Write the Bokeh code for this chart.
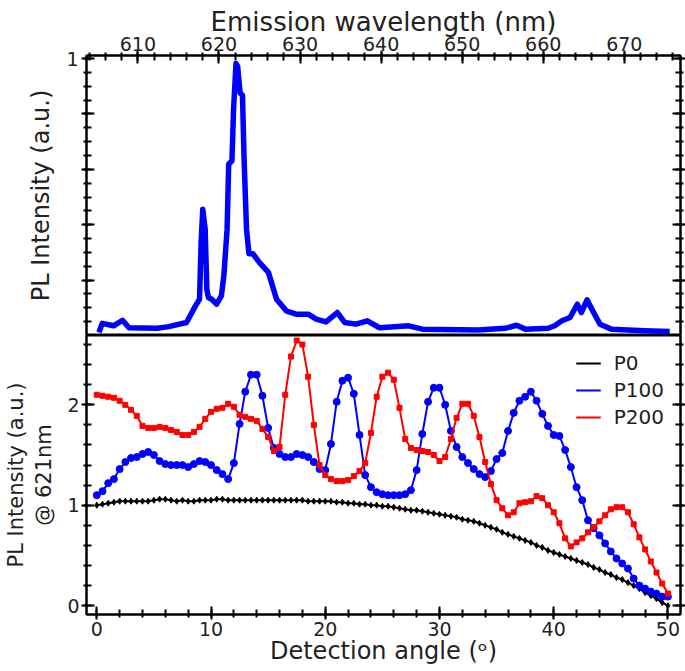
from bokeh.plotting import figure
from bokeh.models import (Range1d, LinearAxis, SingleIntervalTicker, FixedTicker,
                          Legend, LegendItem, CustomJSTickFormatter)
from bokeh.layouts import column
from bokeh.embed import file_html
from bokeh.resources import INLINE

FONT = "DejaVu Sans"

# ---------------- data: top panel (PL spectrum) ----------------
wavelength = [605.2, 605.6, 607.0, 608.1, 608.9, 612.4, 613.8, 616.0, 617.1, 617.6,
              617.8, 618.0, 618.3, 618.5, 618.7, 619.1, 619.7, 620.3, 620.6, 621.0,
              621.2, 621.6, 621.8, 622.1, 622.3, 622.6, 622.9, 623.1, 623.4, 623.7,
              624.2, 625.0, 626.1, 627.1, 628.3, 629.5, 631.0, 632.0, 633.2, 634.6,
              635.5, 636.9, 638.3, 639.8, 643.4, 645.1, 652.0, 655.3, 656.7, 657.8,
              660.6, 661.4, 662.3, 663.3, 664.2, 664.7, 665.4, 666.1, 667.0, 668.4,
              672.5, 675.6]
intensity = [0.011, 0.044, 0.035, 0.055, 0.028, 0.026, 0.032, 0.047, 0.107, 0.131,
             0.336, 0.456, 0.383, 0.167, 0.137, 0.131, 0.113, 0.143, 0.215, 0.383,
             0.619, 0.630, 0.817, 0.982, 0.972, 0.877, 0.867, 0.636, 0.383, 0.295,
             0.295, 0.263, 0.228, 0.131, 0.089, 0.077, 0.077, 0.059, 0.049, 0.083,
             0.047, 0.041, 0.053, 0.028, 0.035, 0.023, 0.020, 0.026, 0.037, 0.023,
             0.026, 0.035, 0.053, 0.065, 0.113, 0.083, 0.129, 0.089, 0.041, 0.023,
             0.017, 0.014]

# ---------------- data: bottom panel (angle scans at 621 nm) ----------------
angle = [k / 2 for k in range(101)]
p0 = [1.00, 1.01, 1.02, 1.03, 1.04, 1.04, 1.04, 1.04, 1.04, 1.04,
      1.05, 1.06, 1.06, 1.05, 1.04, 1.05, 1.04, 1.04, 1.05, 1.05,
      1.05, 1.06, 1.06, 1.05, 1.05, 1.05, 1.05, 1.05, 1.05, 1.05,
      1.05, 1.05, 1.05, 1.05, 1.05, 1.05, 1.05, 1.04, 1.04, 1.04,
      1.04, 1.04, 1.03, 1.03, 1.02, 1.02, 1.01, 1.01, 1.00, 1.00,
      0.99, 0.99, 0.98, 0.97, 0.96, 0.95, 0.95, 0.94, 0.93, 0.92,
      0.91, 0.90, 0.89, 0.88, 0.86, 0.85, 0.84, 0.82, 0.80, 0.78,
      0.76, 0.73, 0.71, 0.69, 0.67, 0.65, 0.63, 0.60, 0.58, 0.55,
      0.53, 0.51, 0.49, 0.47, 0.45, 0.43, 0.41, 0.38, 0.36, 0.33,
      0.31, 0.28, 0.26, 0.23, 0.20, 0.17, 0.13, 0.10, 0.07, 0.03,
      0.00]
p100 = [1.10, 1.14, 1.22, 1.26, 1.36, 1.43, 1.47, 1.48, 1.51, 1.53,
        1.50, 1.44, 1.41, 1.40, 1.40, 1.40, 1.38, 1.41, 1.44, 1.43,
        1.40, 1.35, 1.31, 1.26, 1.42, 1.81, 2.13, 2.30, 2.30, 2.09,
        1.77, 1.57, 1.51, 1.48, 1.48, 1.51, 1.50, 1.48, 1.43, 1.36,
        1.35, 1.61, 2.03, 2.24, 2.27, 2.11, 1.70, 1.30, 1.18, 1.13,
        1.11, 1.10, 1.10, 1.10, 1.11, 1.15, 1.35, 1.71, 2.03, 2.17,
        2.17, 2.00, 1.74, 1.58, 1.48, 1.42, 1.36, 1.31, 1.28, 1.34,
        1.46, 1.52, 1.74, 1.92, 2.04, 2.08, 2.13, 2.04, 1.91, 1.79,
        1.70, 1.69, 1.55, 1.38, 1.18, 1.05, 0.85, 0.77, 0.70, 0.62,
        0.54, 0.47, 0.42, 0.37, 0.27, 0.20, 0.17, 0.14, 0.12, 0.09,
        0.09]
p200 = [2.10, 2.09, 2.08, 2.07, 2.04, 2.00, 1.95, 1.89, 1.79, 1.77,
        1.77, 1.78, 1.77, 1.75, 1.73, 1.70, 1.70, 1.73, 1.78, 1.86,
        1.93, 1.96, 1.97, 2.01, 1.98, 1.90, 1.88, 1.86, 1.84, 1.76,
        1.68, 1.54, 1.58, 2.10, 2.48, 2.64, 2.60, 2.28, 1.80, 1.40,
        1.30, 1.26, 1.24, 1.24, 1.25, 1.29, 1.34, 1.42, 1.72, 2.08,
        2.28, 2.32, 2.25, 1.97, 1.66, 1.57, 1.55, 1.54, 1.53, 1.50,
        1.44, 1.48, 1.66, 1.87, 2.01, 2.01, 1.89, 1.68, 1.43, 1.21,
        1.05, 0.97, 0.90, 0.93, 1.02, 1.03, 1.04, 1.09, 1.07, 1.00,
        0.93, 0.82, 0.67, 0.59, 0.63, 0.67, 0.73, 0.78, 0.84, 0.90,
        0.96, 0.98, 0.98, 0.93, 0.81, 0.68, 0.56, 0.44, 0.33, 0.22,
        0.12]

series_names = ["P0", "P100", "P200"]
series_colors = ["black", "#0000ff", "#ff0000"]

top_major_ticks = [0.2, 0.4, 0.6, 0.8, 1.0]
top_minor_ticks = [k * 0.05 for k in range(1, 21)]

W = 685
LEFT = 86


def style_axis(ax, labels=True):
    ax.axis_line_color = "black"
    ax.axis_line_width = 2
    ax.major_tick_line_color = "black"
    ax.major_tick_line_width = 2
    ax.minor_tick_line_color = "black"
    ax.minor_tick_line_width = 2
    ax.major_tick_in = 8
    ax.major_tick_out = 5
    ax.minor_tick_in = 5
    ax.minor_tick_out = 3
    ax.major_label_text_font = FONT
    ax.major_label_text_font_size = "19px"
    ax.major_label_text_color = "#222222"
    ax.axis_label_text_font = FONT
    ax.axis_label_text_font_style = "normal"
    ax.axis_label_text_color = "#222222"
    if not labels:
        ax.formatter = CustomJSTickFormatter(code="return ''")
        ax.major_label_text_font_size = "0px"
        ax.major_label_standoff = 0


def style_fig(p):
    p.outline_line_color = "black"
    p.outline_line_width = 2
    p.grid.visible = False
    p.background_fill_color = "white"
    p.border_fill_color = "white"


# ---------------- top figure ----------------
top = figure(width=W, height=335, x_range=Range1d(603.66, 676.93), y_range=Range1d(0, 1.011),
             output_backend="svg", toolbar_location=None, x_axis_location="above",
             min_border_left=LEFT, min_border_right=5, min_border_top=55, min_border_bottom=0)
style_fig(top)

top.xaxis.ticker = SingleIntervalTicker(interval=10, num_minor_ticks=5)
top.xaxis.axis_label = "Emission wavelength (nm)"
for ax in top.xaxis:
    style_axis(ax)
    ax.axis_label_text_font_size = "26px"
    ax.major_label_standoff = 0
    ax.axis_label_standoff = -3

top.yaxis.ticker = FixedTicker(ticks=top_major_ticks, minor_ticks=top_minor_ticks)
top.yaxis.axis_label = "PL Intensity (a.u.)"
for ax in top.yaxis:
    style_axis(ax)
    ax.formatter = CustomJSTickFormatter(code="return Math.abs(tick - 1) < 1e-6 ? '1' : ''")
    ax.axis_label_text_font_size = "24px"
    ax.major_label_standoff = 3
    ax.axis_label_standoff = 8

top_right_axis = LinearAxis(ticker=FixedTicker(ticks=top_major_ticks, minor_ticks=top_minor_ticks))
style_axis(top_right_axis, labels=False)
top.add_layout(top_right_axis, "right")

top.line(wavelength, intensity, line_color="#0000ff", line_width=5.5, line_join="round")

# ---------------- bottom figure ----------------
bot = figure(width=W, height=335, x_range=Range1d(-0.9, 51.1), y_range=Range1d(-0.088, 2.69),
             output_backend="svg", toolbar_location=None,
             min_border_left=LEFT, min_border_right=5, min_border_top=0, min_border_bottom=56)
style_fig(bot)

bot.xaxis.ticker = SingleIntervalTicker(interval=10, num_minor_ticks=5)
bot.xaxis.axis_label = "Detection angle (\u1d52)"
for ax in bot.xaxis:
    style_axis(ax)
    ax.axis_label_text_font_size = "24px"
    ax.major_label_standoff = 2
    ax.axis_label_standoff = -2

bot.yaxis.ticker = SingleIntervalTicker(interval=1, num_minor_ticks=5)
bot.yaxis.axis_label = "PL Intensity (a.u.)\n@ 621nm"
for ax in bot.yaxis:
    style_axis(ax)
    ax.axis_label_text_font_size = "21px"
    ax.major_label_standoff = 2
    ax.axis_label_standoff = 8

bot_right_axis = LinearAxis(ticker=SingleIntervalTicker(interval=1, num_minor_ticks=5))
style_axis(bot_right_axis, labels=False)
bot.add_layout(bot_right_axis, "right")

r0 = bot.line(angle, p0, line_color=series_colors[0], line_width=2)
bot.scatter(angle, p0, marker="diamond", size=6, color=series_colors[0])
r1 = bot.line(angle, p100, line_color=series_colors[1], line_width=2)
bot.scatter(angle, p100, marker="circle", size=7, color=series_colors[1])
r2 = bot.line(angle, p200, line_color=series_colors[2], line_width=2)
bot.scatter(angle, p200, marker="square", size=5, color=series_colors[2])

legend = Legend(items=[LegendItem(label=series_names[0], renderers=[r0]),
                       LegendItem(label=series_names[1], renderers=[r1]),
                       LegendItem(label=series_names[2], renderers=[r2])],
                location="top_right", label_text_font=FONT, label_text_font_size="20px",
                label_text_color="#222222", glyph_width=25, glyph_height=20,
                label_standoff=13, spacing=3, padding=6, margin=10,
                border_line_alpha=0, background_fill_alpha=0)
bot.add_layout(legend)

layout = column(top, bot, spacing=0)
open("out.html", "w").write(file_html(layout, INLINE))
